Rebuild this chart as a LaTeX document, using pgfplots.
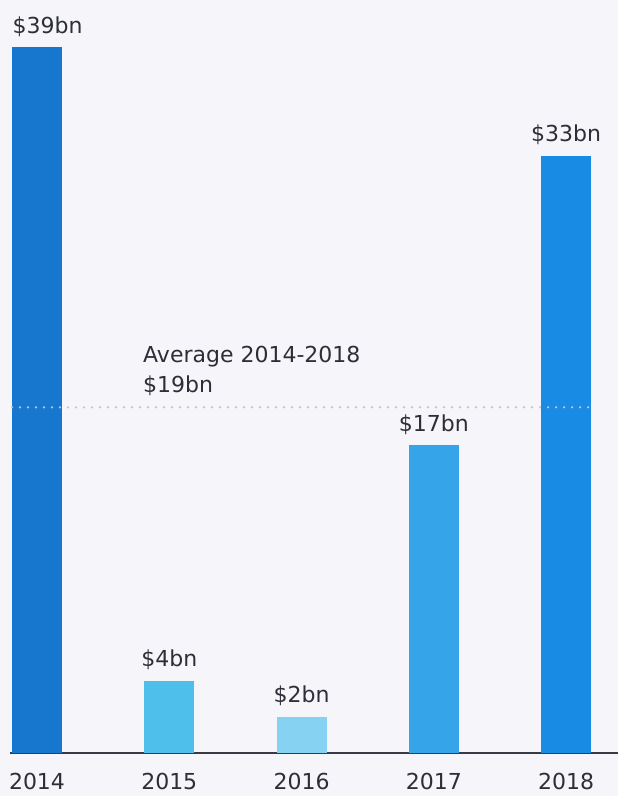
\documentclass[border=0pt]{standalone}
\usepackage{pgfplots}
\pgfplotsset{compat=1.18}
\usepackage{fontspec}
\setmainfont{DejaVu Sans}
\definecolor{bg}{HTML}{F5F5FA}
\definecolor{txt}{HTML}{2E2E38}
\definecolor{axisc}{HTML}{3A3A44}
\definecolor{avg}{HTML}{C4C4CD}
\definecolor{cA}{HTML}{1777CF}
\definecolor{cB}{HTML}{4EBEEB}
\definecolor{cC}{HTML}{85D2F2}
\definecolor{cD}{HTML}{35A4E8}
\definecolor{cE}{HTML}{188CE5}
\newcommand\lbl{\fontsize{22bp}{26bp}\selectfont}
\pagecolor{bg}
\pgfplotsset{
  bars/.style={ybar, bar width=50bp, bar shift=0pt, draw=none,
    nodes near coords={\$\pgfmathprintnumber{\pgfplotspointmeta}bn},
    nodes near coords style={anchor=base, inner sep=0pt, yshift=14bp, font=\lbl, text=txt}},
}
\begin{document}
\begin{tikzpicture}
\begin{axis}[
  scale only axis, width=608bp, height=724bp,
  xmin=-0.2042, xmax=4.3932, ymin=0, ymax=40,
  /pgf/number format/assume math mode=true,
  axis x line=bottom, axis y line=none,
  x axis line style={-, line width=1.3bp, color=axisc},
  xtick={0,1,2,3,4}, xticklabels={2014,2015,2016,2017,2018},
  major tick length=0pt,
  xticklabel style={anchor=north, inner sep=0pt, yshift=-20bp, font=\lbl, text=txt},
  ytick=\empty,
  clip=false,
]
\addplot[bars, fill=cA, every node near coord/.append style={xshift=10.5bp}] coordinates {(0,39)};
\addplot[bars, fill=cB] coordinates {(1,4)};
\addplot[bars, fill=cC] coordinates {(2,2)};
\addplot[bars, fill=cD] coordinates {(3,17)};
\addplot[bars, fill=cE] coordinates {(4,33)};
\addplot[sharp plot, draw=avg, line width=2.5bp, line cap=round, dash pattern=on 0pt off 8bp] coordinates {(-0.189,19.1) (4.197,19.1)};
\node[anchor=base west, inner sep=0pt, font=\lbl, text=txt] at (axis cs:0.8015,21.55) {Average 2014-2018};
\node[anchor=base west, inner sep=0pt, font=\lbl, text=txt] at (axis cs:0.8015,19.89) {\$19bn};
\coordinate (bl) at (axis cs:-0.2798,-2.376);
\coordinate (tr) at (axis cs:4.3933,41.6);
\end{axis}
\pgfresetboundingbox
\path[use as bounding box] (bl) rectangle (tr);
\end{tikzpicture}
\end{document}
